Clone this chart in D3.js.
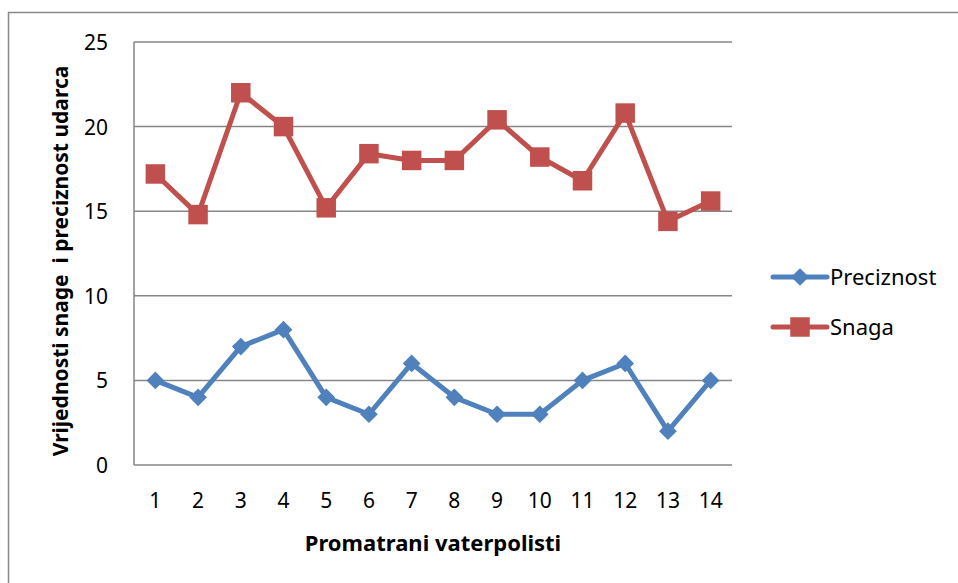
<!DOCTYPE html>
<html>
<head>
<meta charset="utf-8">
<script src="https://cdn.jsdelivr.net/npm/d3@7"></script>
<style>
  body { margin: 0; background: #fff; }
  text { font-family: "Noto Sans", "Open Sans", sans-serif; fill: #000; }
</style>
</head>
<body>
<div id="container"></div>
<script>
// podaci
let igraci = ['1', '2', '3', '4', '5', '6', '7', '8', '9', '10', '11', '12', '13', '14'];
let preciznost = [5, 4, 7, 8, 4, 3, 6, 4, 3, 3, 5, 6, 2, 5];
let snaga = [17.2, 14.8, 22, 20, 15.2, 18.4, 18, 18, 20.4, 18.2, 16.8, 20.8, 14.4, 15.6];
let yTicks = [0, 5, 10, 15, 20, 25];

let width = 958;
let height = 583;
let plot = { left: 134, right: 732, top: 42, bottom: 465 };

let svg = d3.create('svg').attr('width', width).attr('height', height);

// okvir
svg.append('rect')
  .attr('x', 8.5).attr('y', 12.5)
  .attr('width', width + 20).attr('height', height + 20)
  .attr('fill', 'none').attr('stroke', '#888').attr('stroke-width', 1.5);

let x = d3.scalePoint().domain(igraci).range([plot.left, plot.right]).padding(0.5);
let y = d3.scaleLinear().domain([0, 25]).range([plot.bottom, plot.top]);

// mreza
svg.selectAll('.grid')
  .data(yTicks.filter(d => d > 0))
  .enter()
  .append('line')
  .attr('x1', plot.left).attr('x2', plot.right)
  .attr('y1', d => y(d)).attr('y2', d => y(d))
  .attr('stroke', '#868686').attr('stroke-width', 1.5);

// osi
svg.append('line')
  .attr('x1', plot.left).attr('x2', plot.left)
  .attr('y1', plot.top).attr('y2', plot.bottom)
  .attr('stroke', '#868686').attr('stroke-width', 1.5);
svg.append('line')
  .attr('x1', plot.left).attr('x2', plot.right)
  .attr('y1', plot.bottom).attr('y2', plot.bottom)
  .attr('stroke', '#868686').attr('stroke-width', 1.5);

svg.selectAll('.ylab')
  .data(yTicks)
  .enter()
  .append('text')
  .attr('x', 108)
  .attr('y', d => y(d) + 8)
  .attr('text-anchor', 'end')
  .attr('font-size', '21px')
  .text(d => d);

svg.selectAll('.xlab')
  .data(igraci)
  .enter()
  .append('text')
  .attr('x', d => x(d))
  .attr('y', 508)
  .attr('text-anchor', 'middle')
  .attr('font-size', '21px')
  .text(d => d);

svg.append('text')
  .attr('x', 433).attr('y', 551)
  .attr('text-anchor', 'middle')
  .attr('font-size', '22px').attr('font-weight', 'bold')
  .text('Promatrani vaterpolisti');

svg.append('text')
  .attr('transform', 'translate(68,261) rotate(-90)')
  .attr('text-anchor', 'middle')
  .attr('font-size', '21px').attr('font-weight', 'bold')
  .style('white-space', 'pre')
  .text('Vrijednosti snage  i preciznost udarca');

let line = d3.line().x((d, i) => x(igraci[i])).y(d => y(d));

let serije = [
  { ime: 'Preciznost', vrijednosti: preciznost, boja: '#4F81BD', simbol: d3.symbolDiamond2, vel: 200 },
  { ime: 'Snaga', vrijednosti: snaga, boja: '#C0504D', simbol: d3.symbolSquare, vel: 380 }
];

serije.forEach(s => {
  svg.append('path')
    .attr('d', line(s.vrijednosti))
    .attr('fill', 'none')
    .attr('stroke', s.boja)
    .attr('stroke-width', 5)
    .attr('stroke-linejoin', 'round');
  svg.selectAll(null)
    .data(s.vrijednosti)
    .enter()
    .append('path')
    .attr('d', d3.symbol().type(s.simbol).size(s.vel))
    .attr('transform', (d, i) => `translate(${x(igraci[i])},${y(d)})`)
    .attr('fill', s.boja);
});

// legenda
serije.forEach((s, i) => {
  let ly = 277 + i * 50;
  svg.append('line')
    .attr('x1', 773).attr('x2', 827)
    .attr('y1', ly).attr('y2', ly)
    .attr('stroke', s.boja).attr('stroke-width', 5).attr('stroke-linecap', 'round');
  svg.append('path')
    .attr('d', d3.symbol().type(s.simbol).size(s.vel))
    .attr('transform', `translate(800,${ly})`)
    .attr('fill', s.boja);
  svg.append('text')
    .attr('x', 830).attr('y', ly + 8)
    .attr('font-size', '22px')
    .text(s.ime);
});

d3.select('#container').append(() => svg.node());
</script>
</body>
</html>
